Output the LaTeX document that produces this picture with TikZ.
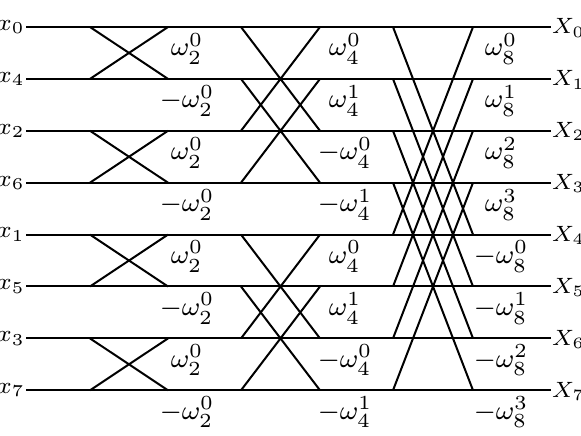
\documentclass[tikz,border=0pt]{standalone}

\begin{document}
\begin{tikzpicture}[x=0.3pt, y=-0.3pt, line width=0.6pt,
		every node/.style={inner sep=0.5pt, font=\footnotesize}]
		\useasboundingbox (0,0) rectangle (581,436);
		% rows, inputs in bit-reversed order
		\foreach \i/\n in {0/0,1/4,2/2,3/6,4/1,5/5,6/3,7/7}{
			\node[anchor=east, inner sep=0pt, font=\scriptsize] (in\i) at (26,27+51.9*\i){$x_{\n}$};
			\node[anchor=west, inner sep=0pt, font=\scriptsize, scale=0.95] (out\i) at (551,28+51.9*\i){$X_{\i}$};
			\draw (in\i.east) -- (out\i.west |- in\i.east);
			\foreach \s/\xx in {0/90,1/168,2/241,3/320,4/393,5/473}
				\coordinate (p\i-\s) at (\xx,27+51.9*\i);
		}
		% butterflies
		\foreach \a/\b in {0/1,2/3,4/5,6/7}
			\draw (p\a-0) -- (p\b-1) (p\b-0) -- (p\a-1);
		\foreach \a/\b in {0/2,1/3,4/6,5/7}
			\draw (p\a-2) -- (p\b-3) (p\b-2) -- (p\a-3);
		\foreach \a/\b in {0/4,1/5,2/6,3/7}
			\draw (p\a-4) -- (p\b-5) (p\b-4) -- (p\a-5);
		% twiddle factors
		\foreach \i/\s/\k in {0//0,1/-/0,2//0,3/-/0,4//0,5/-/0,6//0,7/-/0}
			\node (wa\i) at (187,49+51.9*\i){$\s\omega_2^{\k}$};
		\foreach \i/\s/\k in {0//0,1//1,2/-/0,3/-/1,4//0,5//1,6/-/0,7/-/1}
			\node (wb\i) at (345,49+51.9*\i){$\s\omega_4^{\k}$};
		\foreach \i/\s/\k in {0//0,1//1,2//2,3//3,4/-/0,5/-/1,6/-/2,7/-/3}
			\node (wc\i) at (501,49+51.9*\i){$\s\omega_8^{\k}$};
		\end{tikzpicture}
\end{document}
